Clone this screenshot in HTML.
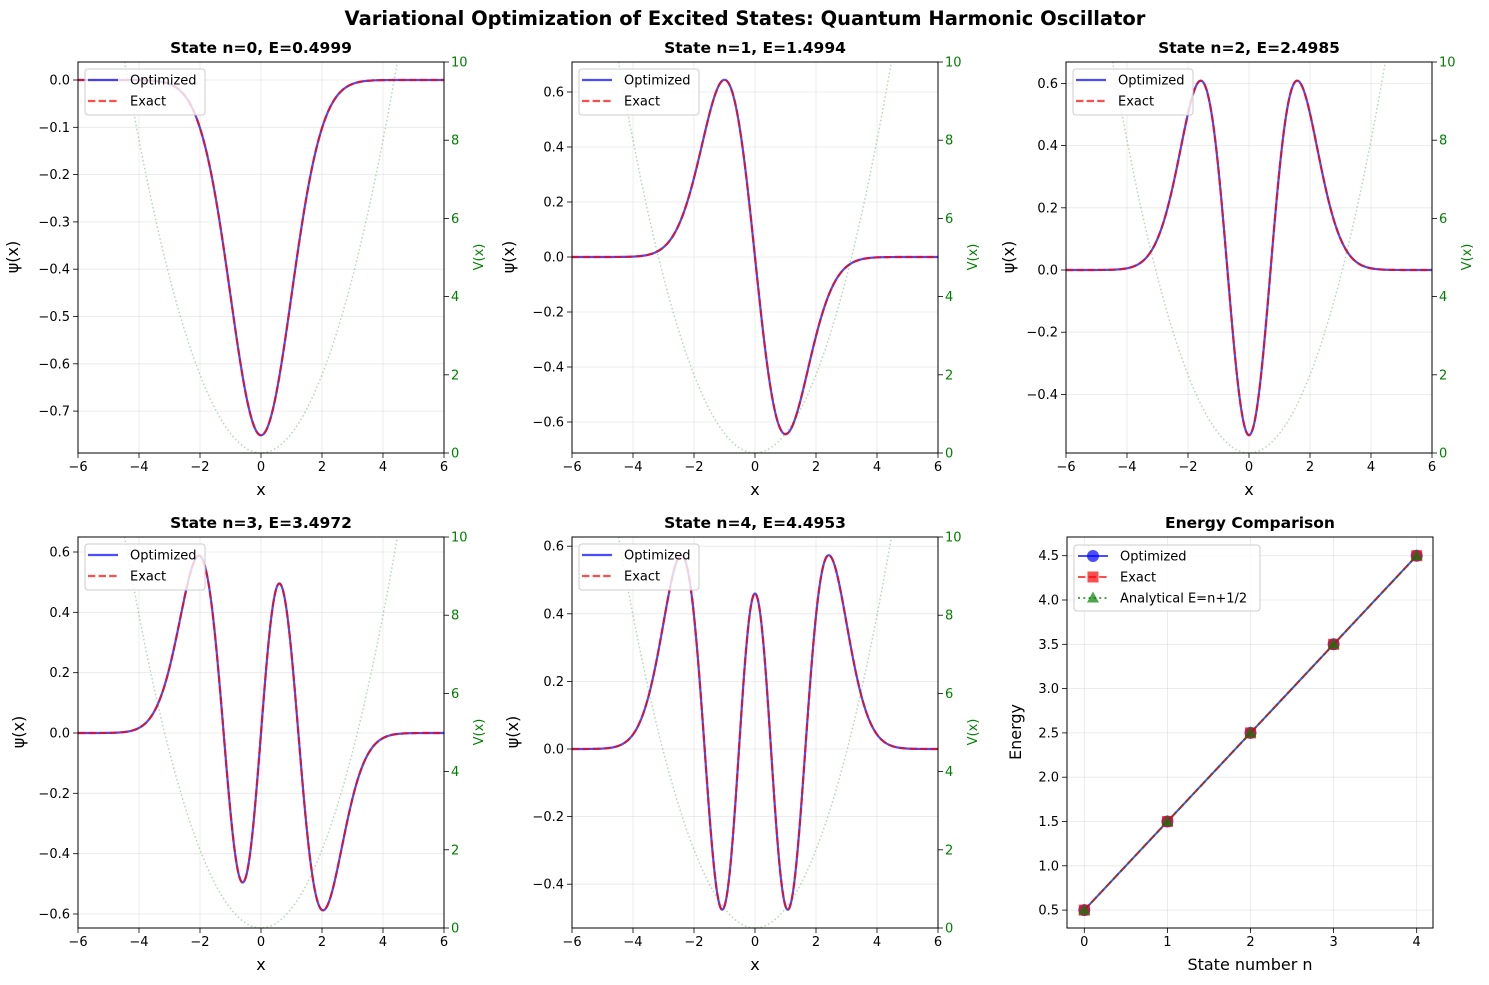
<!DOCTYPE html>
<html><head><meta charset="utf-8"><style>
body{margin:0;background:#fff}
svg{display:block;font-family:"DejaVu Sans","Liberation Sans",sans-serif}
.t{font-size:13px;fill:#000}
.r{text-anchor:end}
.g{fill:#008000}
.grid line{stroke:#b0b0b0;stroke-opacity:.3;stroke-width:.8}
.tk{stroke:#000;stroke-width:.8}
.ttl{font-size:15.5px;font-weight:bold;text-anchor:middle}
.lab{font-size:16px;text-anchor:middle}
.lg{font-size:13px}
</style></head><body>
<svg id="s" width="1489" height="985" viewBox="0 0 1489 985" xmlns="http://www.w3.org/2000/svg">
<defs><clipPath id="c" clipPathUnits="userSpaceOnUse"><rect x="0" y="0" width="366" height="391"/></clipPath></defs>
<rect width="1489" height="985" fill="#fff"/>
<text x="745" y="25" style="font-size:19.5px;font-weight:bold" text-anchor="middle">Variational Optimization of Excited States: Quantum Harmonic Oscillator</text>

<g id="p0" transform="translate(78,62)">
<text class="ttl" x="183" y="-9">State n=0, E=0.4999</text>
<g class="t r"><text x="-8" y="22.5">0.0</text><text x="-8" y="69.8">−0.1</text><text x="-8" y="117.1">−0.2</text><text x="-8" y="164.4">−0.3</text><text x="-8" y="211.7">−0.4</text><text x="-8" y="259">−0.5</text><text x="-8" y="306.3">−0.6</text><text x="-8" y="353.6">−0.7</text></g>
<text class="lab" transform="translate(-60,195) rotate(-90)">ψ(x)</text>
</g>
<g id="p1" transform="translate(572,62)">
<text class="ttl" x="183" y="-9">State n=1, E=1.4994</text>
<g class="t r"><text x="-8" y="34.5">0.6</text><text x="-8" y="89.5">0.4</text><text x="-8" y="144.5">0.2</text><text x="-8" y="199.5">0.0</text><text x="-8" y="254.5">−0.2</text><text x="-8" y="309.5">−0.4</text><text x="-8" y="364.5">−0.6</text></g>
<text class="lab" transform="translate(-58,195) rotate(-90)">ψ(x)</text>
</g>
<g id="p2" transform="translate(1066,62)">
<text class="ttl" x="183" y="-9">State n=2, E=2.4985</text>
<g class="t r"><text x="-8" y="25.9">0.6</text><text x="-8" y="88.1">0.4</text><text x="-8" y="150.3">0.2</text><text x="-8" y="212.5">0.0</text><text x="-8" y="274.7">−0.2</text><text x="-8" y="336.9">−0.4</text></g>
<text class="lab" transform="translate(-52,195) rotate(-90)">ψ(x)</text>
</g>
<g id="p3" transform="translate(78,537)">
<text class="ttl" x="183" y="-9">State n=3, E=3.4972</text>
<g class="t r"><text x="-8" y="19.5">0.6</text><text x="-8" y="79.8">0.4</text><text x="-8" y="140.2">0.2</text><text x="-8" y="200.5">0.0</text><text x="-8" y="260.8">−0.2</text><text x="-8" y="321.2">−0.4</text><text x="-8" y="381.5">−0.6</text></g>
<text class="lab" transform="translate(-54,195) rotate(-90)">ψ(x)</text>
</g>
<g id="p4" transform="translate(572,537)">
<text class="ttl" x="183" y="-9">State n=4, E=4.4953</text>
<g class="t r"><text x="-8" y="13.7">0.6</text><text x="-8" y="81.3">0.4</text><text x="-8" y="148.9">0.2</text><text x="-8" y="216.5">0.0</text><text x="-8" y="284.1">−0.2</text><text x="-8" y="351.7">−0.4</text></g>
<text class="lab" transform="translate(-54,195) rotate(-90)">ψ(x)</text>
</g>

<g transform="translate(78,62)" class="t"><g text-anchor="middle"><text x="0" y="409">−6</text><text x="61" y="409">−4</text><text x="122" y="409">−2</text><text x="183" y="409">0</text><text x="244" y="409">2</text><text x="305" y="409">4</text><text x="366" y="409">6</text></g><text class="lab" x="183" y="433">x</text>
<g class="g"><text x="373" y="395.5">0</text><text x="373" y="317.3">2</text><text x="373" y="239.1">4</text><text x="373" y="160.9">6</text><text x="373" y="82.7">8</text><text x="373" y="4.5">10</text></g><text class="g" style="font-size:13px" text-anchor="middle" transform="translate(405,195) rotate(-90)">V(x)</text></g>
<g transform="translate(572,62)" class="t"><g text-anchor="middle"><text x="0" y="409">−6</text><text x="61" y="409">−4</text><text x="122" y="409">−2</text><text x="183" y="409">0</text><text x="244" y="409">2</text><text x="305" y="409">4</text><text x="366" y="409">6</text></g><text class="lab" x="183" y="433">x</text>
<g class="g"><text x="373" y="395.5">0</text><text x="373" y="317.3">2</text><text x="373" y="239.1">4</text><text x="373" y="160.9">6</text><text x="373" y="82.7">8</text><text x="373" y="4.5">10</text></g><text class="g" style="font-size:13px" text-anchor="middle" transform="translate(405,195) rotate(-90)">V(x)</text></g>
<g transform="translate(1066,62)" class="t"><g text-anchor="middle"><text x="0" y="409">−6</text><text x="61" y="409">−4</text><text x="122" y="409">−2</text><text x="183" y="409">0</text><text x="244" y="409">2</text><text x="305" y="409">4</text><text x="366" y="409">6</text></g><text class="lab" x="183" y="433">x</text>
<g class="g"><text x="373" y="395.5">0</text><text x="373" y="317.3">2</text><text x="373" y="239.1">4</text><text x="373" y="160.9">6</text><text x="373" y="82.7">8</text><text x="373" y="4.5">10</text></g><text class="g" style="font-size:13px" text-anchor="middle" transform="translate(405,195) rotate(-90)">V(x)</text></g>
<g transform="translate(78,537)" class="t"><g text-anchor="middle"><text x="0" y="409">−6</text><text x="61" y="409">−4</text><text x="122" y="409">−2</text><text x="183" y="409">0</text><text x="244" y="409">2</text><text x="305" y="409">4</text><text x="366" y="409">6</text></g><text class="lab" x="183" y="433">x</text>
<g class="g"><text x="373" y="395.5">0</text><text x="373" y="317.3">2</text><text x="373" y="239.1">4</text><text x="373" y="160.9">6</text><text x="373" y="82.7">8</text><text x="373" y="4.5">10</text></g><text class="g" style="font-size:13px" text-anchor="middle" transform="translate(405,195) rotate(-90)">V(x)</text></g>
<g transform="translate(572,537)" class="t"><g text-anchor="middle"><text x="0" y="409">−6</text><text x="61" y="409">−4</text><text x="122" y="409">−2</text><text x="183" y="409">0</text><text x="244" y="409">2</text><text x="305" y="409">4</text><text x="366" y="409">6</text></g><text class="lab" x="183" y="433">x</text>
<g class="g"><text x="373" y="395.5">0</text><text x="373" y="317.3">2</text><text x="373" y="239.1">4</text><text x="373" y="160.9">6</text><text x="373" y="82.7">8</text><text x="373" y="4.5">10</text></g><text class="g" style="font-size:13px" text-anchor="middle" transform="translate(405,195) rotate(-90)">V(x)</text></g>

<g id="p5" transform="translate(1067,537)">
<text class="ttl" x="183" y="-9">Energy Comparison</text>
<g class="grid">
<line x1="17.3" y1="0" x2="17.3" y2="391"/><line x1="100.4" y1="0" x2="100.4" y2="391"/><line x1="183.5" y1="0" x2="183.5" y2="391"/><line x1="266.6" y1="0" x2="266.6" y2="391"/><line x1="349.7" y1="0" x2="349.7" y2="391"/>
<line x1="0" y1="373.1" x2="366" y2="373.1"/><line x1="0" y1="328.8" x2="366" y2="328.8"/><line x1="0" y1="284.5" x2="366" y2="284.5"/><line x1="0" y1="240.2" x2="366" y2="240.2"/><line x1="0" y1="195.9" x2="366" y2="195.9"/><line x1="0" y1="151.6" x2="366" y2="151.6"/><line x1="0" y1="107.3" x2="366" y2="107.3"/><line x1="0" y1="63" x2="366" y2="63"/><line x1="0" y1="18.7" x2="366" y2="18.7"/>
</g>
<g class="tk">
<line x1="17.3" y1="391" x2="17.3" y2="396"/><line x1="100.4" y1="391" x2="100.4" y2="396"/><line x1="183.5" y1="391" x2="183.5" y2="396"/><line x1="266.6" y1="391" x2="266.6" y2="396"/><line x1="349.7" y1="391" x2="349.7" y2="396"/>
<line x1="0" y1="373.1" x2="-5" y2="373.1"/><line x1="0" y1="328.8" x2="-5" y2="328.8"/><line x1="0" y1="284.5" x2="-5" y2="284.5"/><line x1="0" y1="240.2" x2="-5" y2="240.2"/><line x1="0" y1="195.9" x2="-5" y2="195.9"/><line x1="0" y1="151.6" x2="-5" y2="151.6"/><line x1="0" y1="107.3" x2="-5" y2="107.3"/><line x1="0" y1="63" x2="-5" y2="63"/><line x1="0" y1="18.7" x2="-5" y2="18.7"/>
</g>
<g class="t" text-anchor="middle"><text x="17.3" y="409">0</text><text x="100.4" y="409">1</text><text x="183.5" y="409">2</text><text x="266.6" y="409">3</text><text x="349.7" y="409">4</text></g>
<g class="t r"><text x="-8" y="377.6">0.5</text><text x="-8" y="333.3">1.0</text><text x="-8" y="289">1.5</text><text x="-8" y="244.7">2.0</text><text x="-8" y="200.4">2.5</text><text x="-8" y="156.1">3.0</text><text x="-8" y="111.8">3.5</text><text x="-8" y="67.5">4.0</text><text x="-8" y="23.2">4.5</text></g>
<text class="lab" x="183" y="433">State number n</text>
<text class="lab" transform="translate(-46,195) rotate(-90)">Energy</text>
<g stroke-width="2" fill="none">
<polyline points="17.3,373.1 349.7,18.7" stroke="#0000ff" stroke-opacity=".7"/>
<polyline points="17.3,373.1 349.7,18.7" stroke="#ff0000" stroke-opacity=".7" stroke-dasharray="7.4,3.2"/>
<polyline points="17.3,373.1 349.7,18.7" stroke="#008000" stroke-opacity=".7" stroke-dasharray="2,3.3"/>
</g>
<g id="mk"></g>
<rect x="0" y="0" width="366" height="391" fill="none" stroke="#000" stroke-width="1"/>
<g>
<rect x="7" y="8" width="186" height="66" rx="3" fill="#fff" fill-opacity=".8" stroke="#ccc"/>
<line x1="11" y1="19" x2="41" y2="19" stroke="#0000ff" stroke-opacity=".7" stroke-width="2"/><circle cx="26" cy="19" r="6" fill="#0000ff" fill-opacity=".7"/>
<line x1="11" y1="40" x2="41" y2="40" stroke="#ff0000" stroke-opacity=".7" stroke-width="2" stroke-dasharray="7.4,3.2"/><rect x="20.5" y="34.5" width="11" height="11" fill="#ff0000" fill-opacity=".7"/>
<line x1="11" y1="61" x2="41" y2="61" stroke="#008000" stroke-opacity=".7" stroke-width="2" stroke-dasharray="2,3.3"/><polygon points="26,54.5 32,65.5 20,65.5" fill="#008000" fill-opacity=".7"/>
<text class="lg" x="53" y="23.5">Optimized</text><text class="lg" x="53" y="44.5">Exact</text><text class="lg" x="53" y="65.5">Analytical E=n+1/2</text>
</g>
</g>
<g id="legtext" class="lg">
<text x="130" y="84.5">Optimized</text><text x="130" y="105.5">Exact</text>
<text x="624" y="84.5">Optimized</text><text x="624" y="105.5">Exact</text>
<text x="1118" y="84.5">Optimized</text><text x="1118" y="105.5">Exact</text>
<text x="130" y="559.5">Optimized</text><text x="130" y="580.5">Exact</text>
<text x="624" y="559.5">Optimized</text><text x="624" y="580.5">Exact</text>
</g>
</svg>
<script>
(function(){
var NS="http://www.w3.org/2000/svg";
function el(t,a,p){var e=document.createElementNS(NS,t);for(var k in a)e.setAttribute(k,a[k]);p.appendChild(e);return e;}
function H(n,x){var h0=1,h1=2*x;if(n==0)return h0;for(var k=1;k<n;k++){var h2=2*x*h1-2*k*h0;h0=h1;h1=h2;}return h1;}
function fact(n){return n<2?1:n*fact(n-1);}
function psi(n,x){return Math.pow(2,-n/2)/Math.sqrt(fact(n))*Math.pow(Math.PI,-0.25)*H(n,x)*Math.exp(-x*x/2);}
var cfg=[{n:0,s:-1,y0:18,k:473,yt:[18,65.3,112.6,159.9,207.2,254.5,301.8,349.1]},
{n:1,s:-1,y0:195,k:275,yt:[30,85,140,195,250,305,360]},
{n:2,s:1,y0:208,k:311,yt:[21.4,83.6,145.8,208,270.2,332.4]},
{n:3,s:-1,y0:196,k:301.7,yt:[15,75.3,135.7,196,256.3,316.7,377]},
{n:4,s:1,y0:212,k:338,yt:[9.2,76.8,144.4,212,279.6,347.2]}];
var xs=[0,61,122,183,244,305,366];
cfg.forEach(function(c,i){
 var g=document.getElementById("p"+i);
 var gg=el("g",{},g);g.insertBefore(gg,g.firstChild);
 xs.forEach(function(x){el("line",{x1:x,y1:0,x2:x,y2:391,stroke:"#b0b0b0","stroke-opacity":.3,"stroke-width":.8},gg);
  el("line",{x1:x,y1:391,x2:x,y2:396,stroke:"#000","stroke-width":.8},gg);});
 c.yt.forEach(function(y){el("line",{x1:0,y1:y,x2:366,y2:y,stroke:"#b0b0b0","stroke-opacity":.3,"stroke-width":.8},gg);
  el("line",{x1:0,y1:y,x2:-5,y2:y,stroke:"#000","stroke-width":.8},gg);});
 for(var v=0;v<=10;v+=2){var y=391-v*39.1;el("line",{x1:366,y1:y,x2:371,y2:y,stroke:"#000","stroke-width":.8},gg);}
 var d="",dv="";
 for(var j=0;j<=600;j++){var x=-6+12*j/600;var px=(x+6)/12*366;
  var py=c.y0-c.s*psi(c.n,x)*c.k;d+=(j?"L":"M")+px.toFixed(2)+","+py.toFixed(2);
  var vy=391-x*x/2*39.1;dv+=(j?"L":"M")+px.toFixed(2)+","+vy.toFixed(2);}
 var cg=el("g",{"clip-path":"url(#c)",fill:"none"},gg);
 el("path",{d:d,stroke:"#0000ff","stroke-opacity":.7,"stroke-width":2.2},cg);
 el("path",{d:d,stroke:"#ff0000","stroke-opacity":.7,"stroke-width":2.2,"stroke-dasharray":"7.4,3.2"},cg);
 el("path",{d:dv,stroke:"#008000","stroke-opacity":.3,"stroke-width":1.5,"stroke-dasharray":"1.5,2.5"},cg);
 el("rect",{x:0,y:0,width:366,height:391,fill:"none",stroke:"#000","stroke-width":1},gg);
 var lg=el("g",{},gg);
 el("rect",{x:7,y:7,width:120,height:46,rx:3,fill:"#fff","fill-opacity":.8,stroke:"#ccc"},lg);
 el("line",{x1:10,y1:18,x2:40,y2:18,stroke:"#0000ff","stroke-opacity":.7,"stroke-width":2.2},lg);
 el("line",{x1:10,y1:39,x2:40,y2:39,stroke:"#ff0000","stroke-opacity":.7,"stroke-width":2.2,"stroke-dasharray":"7.4,3.2"},lg);
});
var mk=document.getElementById("mk");
for(var n=0;n<5;n++){var x=17.3+n*83.1,y=18.7+(4-n)*88.6;
 el("circle",{cx:x,cy:y,r:6,fill:"#0000ff","fill-opacity":.7},mk);
 el("rect",{x:x-5.5,y:y-5.5,width:11,height:11,fill:"#ff0000","fill-opacity":.7},mk);
 el("polygon",{points:x+","+(y-6.5)+" "+(x+6)+","+(y+4.5)+" "+(x-6)+","+(y+4.5),fill:"#008000","fill-opacity":.7},mk);}
})();
</script>
</body></html>
